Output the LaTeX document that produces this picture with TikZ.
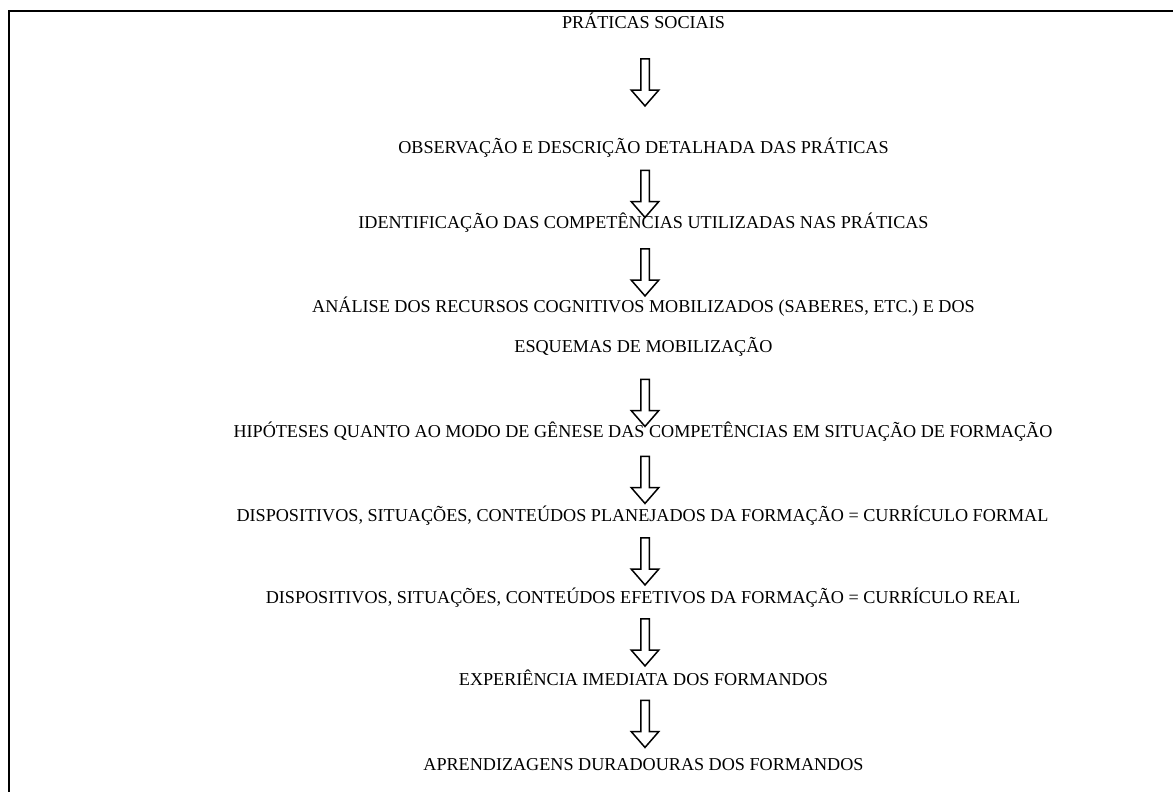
\documentclass[tikz,border=0pt]{standalone}
\usepackage{fontspec}
\setmainfont{Liberation Serif}
\usepackage{tikz}
\usetikzlibrary{shapes}
\usetikzlibrary{shapes.arrows}
\usetikzlibrary{positioning, arrows.meta}

\begin{document}
\begin{tikzpicture}[x=1pt, y=-1pt,
        etapa/.style={anchor=base, inner sep=0pt, font=\fontsize{18.15}{20}\selectfont},
        seta/.style={single arrow, draw, line width=1.5pt, shape border rotate=270, inner sep=3.5pt,
            single arrow head extend=9.5pt, single arrow tip angle=82, minimum height=47pt}]
            \useasboundingbox (0,0) rectangle (1173,792);
            \draw[line width=2pt] (9,792) -- (9,11.5) -- (1173,11.5);
            \node [etapa] (p1) at (643.5,29) {PRÁTICAS SOCIAIS};
            \node [etapa] (p2) at (643.5,153) {OBSERVAÇÃO E DESCRIÇÃO DETALHADA DAS PRÁTICAS};
            \node [etapa] (p3) at (643.5,228) {IDENTIFICAÇÃO DAS COMPETÊNCIAS UTILIZADAS NAS PRÁTICAS};
            \node [etapa] (p4) at (643.5,312) {ANÁLISE DOS RECURSOS COGNITIVOS MOBILIZADOS (SABERES, ETC.) E DOS};
            \node [etapa] (p4b) at (643.5,352) {ESQUEMAS DE MOBILIZAÇÃO};
            \node [etapa] (p5) at (643,437) {HIPÓTESES QUANTO AO MODO DE GÊNESE DAS COMPETÊNCIAS EM SITUAÇÃO DE FORMAÇÃO};
            \node [etapa] (p6) at (642.5,521) {DISPOSITIVOS, SITUAÇÕES, CONTEÚDOS PLANEJADOS DA FORMAÇÃO = CURRÍCULO FORMAL};
            \node [etapa] (p7) at (643,603) {DISPOSITIVOS, SITUAÇÕES, CONTEÚDOS EFETIVOS DA FORMAÇÃO = CURRÍCULO REAL};
            \node [etapa] (p8) at (643.5,685) {EXPERIÊNCIA IMEDIATA DOS FORMANDOS};
            \node [etapa] (p9) at (643.5,770) {APRENDIZAGENS DURADOURAS DOS FORMANDOS};
            % setas entre as etapas
            \node [seta] (s1) at (645,80) {};
            \node [seta] (s2) at (645,191.5) {};
            \node [seta] (s3) at (645,270) {};
            \node [seta] (s4) at (645,400.5) {};
            \node [seta] (s5) at (645,477.5) {};
            \node [seta] (s6) at (645,559) {};
            \node [seta] (s7) at (645,640) {};
            \node [seta] (s8) at (645,721.5) {};
        \end{tikzpicture}
\end{document}
